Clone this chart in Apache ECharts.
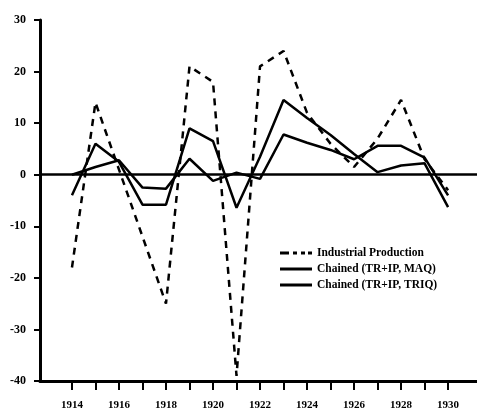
<!DOCTYPE html>
<html>
<head>
<meta charset="utf-8">
<script src="https://cdn.jsdelivr.net/npm/echarts@6/dist/echarts.min.js"></script>
<style>
html,body{margin:0;padding:0;background:#fff;}
#chart{width:477px;height:419px;}
</style>
</head>
<body>
<div id="chart"></div>
<script>
var years = [1914,1915,1916,1917,1918,1919,1920,1921,1922,1923,1924,1925,1926,1927,1928,1929,1930];
var xLabelYears = [1914,1916,1918,1920,1922,1924,1926,1928,1930];
var industrialProduction = [-18, 14, 1, -12, -25, 21, 18, -39, 21, 24, 12, 6, 1.5, 7, 14.5, 3, -3];
var chainedMAQ = [-4, 6, 2.5, -5.8, -5.8, 9, 6.5, -6.4, 3.5, 14.5, 11, 7.7, 4, 0.5, 1.8, 2.2, -6.3];
var chainedTRIQ = [0, 1.5, 2.8, -2.5, -2.7, 3.1, -1.2, 0.4, -0.8, 7.8, 6.2, 4.8, 3, 5.6, 5.6, 3.3, -4];
var seriesNames = ['Industrial Production', 'Chained (TR+IP, MAQ)', 'Chained (TR+IP, TRIQ)'];

function pairs(vals){ return years.map(function(y,i){ return [y, vals[i]]; }); }

var font = '"Liberation Serif", serif';
var solidIcon = 'path://M0,0H32V3H0Z';
var dashIcon = 'path://M0,0H9V3H0Z M13,0H17V3H13Z M21,0H25V3H21Z M28,0H32V3H28Z';
var chart = echarts.init(document.getElementById('chart'), null, {renderer:'canvas'});
chart.setOption({
  animation: false,
  backgroundColor: '#fff',
  grid: {left: 40, right: 0, top: 20, bottom: 38, containLabel: false},
  xAxis: {
    type: 'value',
    min: 1912.64, max: 1931.23,
    splitLine: {show: false},
    axisLine: {show: true, onZero: false, lineStyle: {color: '#000', width: 3}},
    axisTick: {show: true, customValues: years, length: 9, lineStyle: {color: '#000', width: 2}},
    axisLabel: {show: true, customValues: xLabelYears, margin: 19, color: '#000',
      fontFamily: font, fontWeight: 'bold', fontSize: 11,
      formatter: function(v){ return String(v); }}
  },
  yAxis: {
    type: 'value',
    min: -40, max: 30, interval: 10,
    splitLine: {show: false},
    axisLine: {show: true, lineStyle: {color: '#000', width: 3}},
    axisTick: {show: true, length: 6, lineStyle: {color: '#000', width: 2}},
    axisLabel: {show: true, margin: 14, color: '#000', fontFamily: font, fontWeight: 'bold', fontSize: 12,
      formatter: function(v){ return String(v); }}
  },
  legend: {
    show: true, orient: 'vertical', left: 280, top: 247, itemGap: 4, padding: 0,
    itemWidth: 32, itemHeight: 3,
    data: [
      {name: seriesNames[0], icon: dashIcon},
      {name: seriesNames[1], icon: solidIcon},
      {name: seriesNames[2], icon: solidIcon}
    ],
    textStyle: {color: '#000', fontFamily: font, fontWeight: 'bold', fontSize: 11.5, lineHeight: 12}
  },
  series: [
    {name: seriesNames[0], type: 'line', data: pairs(industrialProduction), symbol: 'none',
     lineStyle: {color: '#000', width: 2.5, type: [7, 6]}, itemStyle: {color: '#000'},
     markLine: {silent: true, symbol: 'none', label: {show: false},
       lineStyle: {color: '#000', width: 2.5, type: 'solid'}, data: [{yAxis: 0}]}},
    {name: seriesNames[1], type: 'line', data: pairs(chainedMAQ), symbol: 'none',
     lineStyle: {color: '#000', width: 2.5}, itemStyle: {color: '#000'}},
    {name: seriesNames[2], type: 'line', data: pairs(chainedTRIQ), symbol: 'none',
     lineStyle: {color: '#000', width: 2.5}, itemStyle: {color: '#000'}}
  ]
});
</script>
</body>
</html>
